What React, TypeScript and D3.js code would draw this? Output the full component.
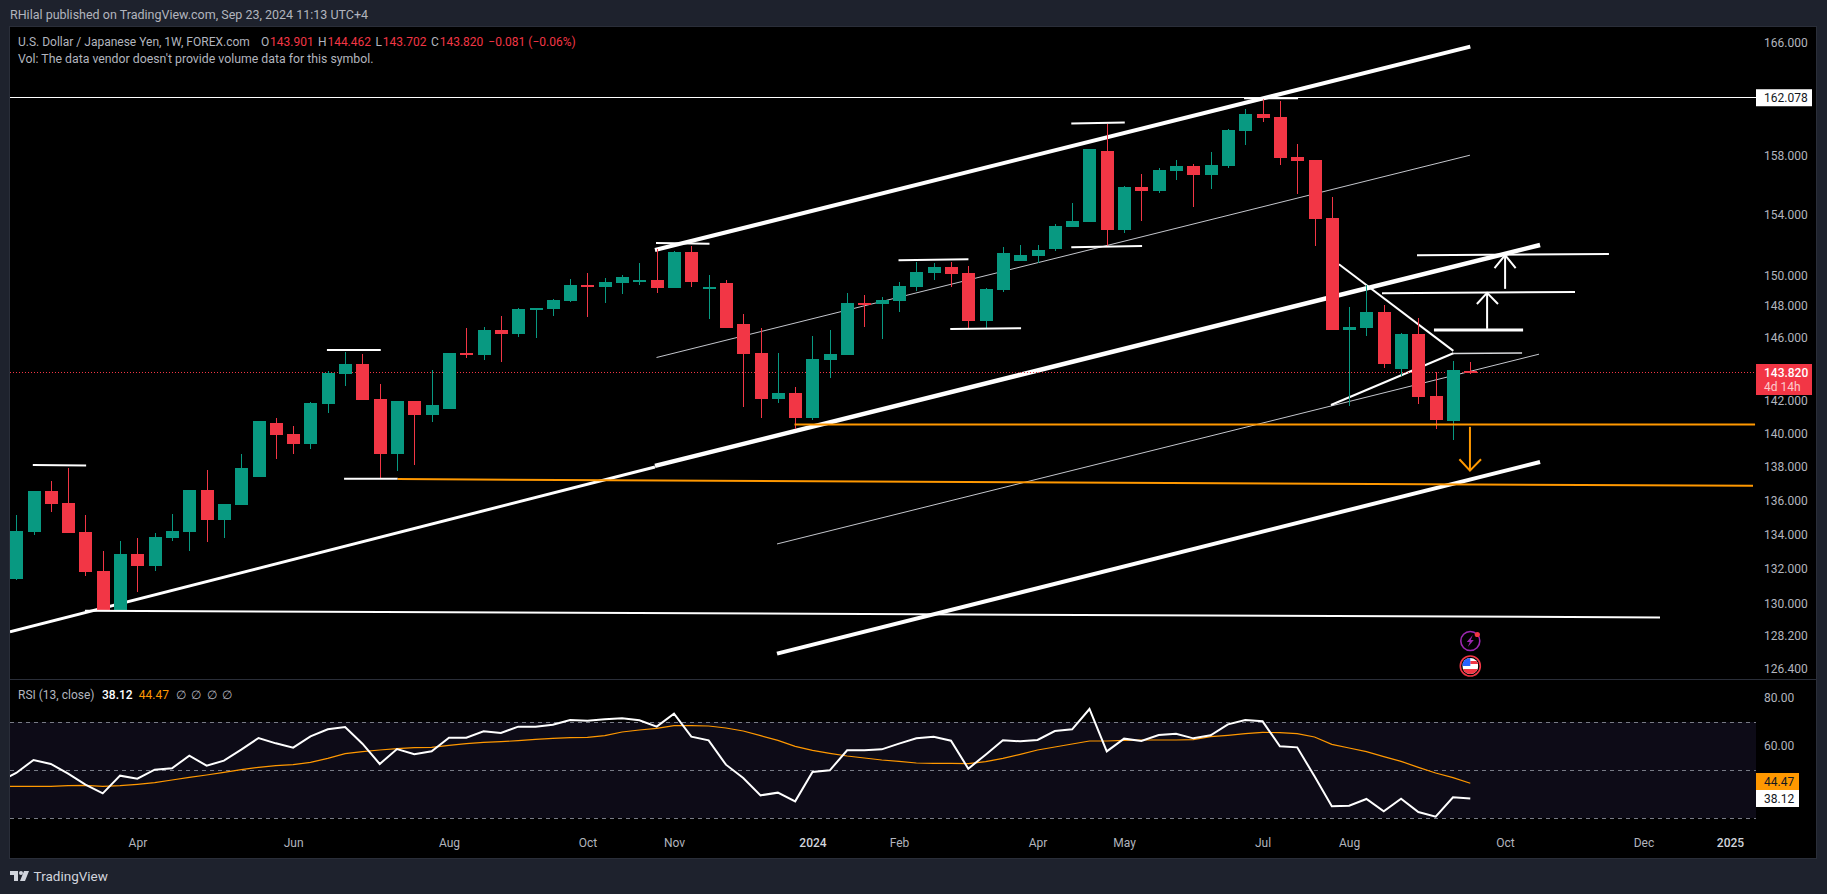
import React, { useRef, useEffect } from 'react';
import * as d3 from 'd3';

// weekly candles, oldest first (USD/JPY)
const opens = [131.44,134.14,136.56,135.84,134.14,131.88,129.66,132.86,132.17,133.79,134.14,136.62,134.85,135.73,137.40,140.66,139.99,139.38,141.83,143.70,144.32,142.13,138.77,142.01,141.15,141.52,145.01,144.89,146.46,146.21,147.82,147.82,148.33,149.37,149.24,149.50,149.63,149.69,149.17,151.52,149.17,149.50,146.86,145.01,142.13,142.51,140.97,144.57,144.89,148.20,148.13,148.33,149.24,150.15,150.54,150.15,147.05,149.04,150.93,151.26,151.72,153.19,153.52,158.33,152.99,155.88,155.60,156.97,157.31,156.69,157.31,159.72,160.91,160.70,157.92,157.72,153.79,146.46,146.60,147.62,144.01,146.21,142.32,140.78,143.901];
const highs = [135.14,136.56,137.16,137.93,135.14,133.03,133.62,133.79,134.09,135.20,136.62,137.81,135.79,138.77,140.78,140.97,140.48,141.95,143.89,145.07,144.95,143.07,142.01,142.01,143.95,145.01,146.57,146.65,147.36,147.88,147.88,148.45,149.76,150.15,149.82,150.02,150.80,151.72,151.58,151.92,150.02,149.69,147.50,146.60,145.01,142.89,146.09,146.46,148.85,148.72,148.59,149.56,150.87,150.80,150.87,150.61,149.17,151.85,151.98,151.98,153.39,154.79,158.47,160.21,155.95,156.76,157.17,157.72,157.45,158.26,159.86,161.25,161.95,161.81,158.82,157.72,155.19,147.94,149.37,148.07,146.27,147.24,143.82,144.51,144.462];
const lows = [131.37,133.97,135.32,134.09,131.60,129.66,129.66,130.68,131.88,133.62,133.03,133.56,133.79,135.73,137.40,138.47,138.77,139.07,141.27,142.95,142.07,137.28,137.75,138.11,140.72,141.52,144.70,144.57,144.45,146.02,145.96,147.36,148.26,147.30,148.20,148.78,149.37,148.85,149.17,149.24,147.18,146.60,141.64,140.97,141.89,140.30,140.85,143.45,144.89,146.67,145.90,147.62,148.98,149.69,149.24,146.60,146.54,148.91,150.93,150.80,151.58,153.19,153.52,151.85,152.79,153.59,155.47,156.35,154.52,155.74,157.17,158.75,160.35,157.38,155.40,151.92,146.46,141.70,146.09,144.07,143.57,141.83,140.30,139.62,143.702];
const closes = [134.20,136.56,135.79,134.09,131.83,129.66,132.86,132.17,133.85,134.20,136.62,134.85,135.79,137.93,140.78,139.93,139.38,141.89,143.76,144.32,142.07,138.77,142.01,141.15,141.76,145.01,144.95,146.46,146.21,147.82,147.88,148.39,149.37,149.30,149.56,149.89,149.69,149.17,151.52,149.56,149.24,146.60,144.95,142.13,142.51,140.97,144.64,144.95,148.20,148.13,148.39,149.30,150.22,150.54,150.09,147.05,149.11,151.45,151.32,151.65,153.25,153.59,158.47,152.99,155.88,155.60,157.04,157.31,156.69,157.38,159.79,160.91,160.63,157.85,157.65,153.72,146.46,146.67,147.62,144.32,146.21,142.26,140.85,143.95,143.820];

// RSI values start one week before the first visible candle
const rsiValues = [45.0,48.75,54.17,52.5,48.47,43.89,40.28,47.64,46.39,50.14,50.69,55.97,51.81,53.89,58.47,63.33,61.11,59.31,64.03,66.94,67.92,60.97,52.5,58.75,56.53,57.78,63.47,63.47,66.11,65.42,68.06,68.06,68.89,70.83,70.56,71.11,71.53,70.69,68.06,73.47,63.89,62.36,52.22,46.67,39.44,40.56,36.94,49.17,49.86,58.19,58.19,58.61,60.97,63.19,63.89,62.22,50.56,56.39,62.36,61.94,62.5,66.25,66.94,75.42,57.78,63.06,62.08,64.58,65.14,63.19,64.44,69.03,70.83,70.28,59.86,59.44,47.36,34.86,35.14,37.92,32.78,38.06,32.5,30.56,38.61,38.12];
const rsiAverage = [43.19,43.19,43.19,43.19,43.47,43.61,43.19,43.47,44.03,44.72,45.83,46.94,47.92,49.03,50.14,51.11,51.81,52.22,53.19,54.86,56.81,57.64,58.33,58.89,59.31,59.44,60.28,60.97,61.53,61.81,62.22,62.78,63.19,63.47,63.61,64.31,65.83,66.67,67.36,68.47,68.47,68.33,67.5,66.25,64.31,62.36,59.86,58.19,56.94,55.83,55,54.17,53.61,52.92,52.78,52.78,52.64,53.47,54.86,56.53,58.33,59.58,60.83,62.08,62.08,62.36,62.5,62.5,62.5,62.64,63.89,64.44,65.14,65.69,65.56,65.14,63.75,60.69,59.17,57.64,55.56,53.61,51.11,48.75,46.81,44.47];

const priceTicks = [166,158,154,150,148,146,142,140,138,136,134,132,130,128.2,126.4];
const rsiTicks = [80,60];
const timeTicks: [number, string][] = [[7,'Apr'],[16,'Jun'],[25,'Aug'],[33,'Oct'],[38,'Nov'],[46,'2024'],[51,'Feb'],[59,'Apr'],[64,'May'],[72,'Jul'],[77,'Aug'],[86,'Oct'],[94,'Dec'],[99,'2025']];
const rsiLevels = [70,50,30];

// drawings as [week index, price, week index, price]
const upperChannel = [[36.90,151.65,84.0,165.69]];
const middleChannelEarly = [[-0.36,128.43,36.90,137.99]];
const middleChannelLate = [[36.90,138.05,88.03,151.98]];
const lowerChannel = [[43.95,127.22,88.03,138.29]];
const medianLines = [
  [36.99,144.72,83.98,158.04],
  [43.95,133.44,87.97,144.93],
];
const triangleLines = [
  [76.41,150.72,83.02,145.14],
  [83.02,144.99,75.95,141.76],
];
const levelLines = [
  [0.96,138.10,4.04,138.07],
  [17.95,145.20,21.06,145.20],
  [18.94,137.28,22.04,137.28],
  [3.97,129.62,94.96,129.24],
  [36.96,152.12,40.05,152.07],
  [50.97,150.98,55.01,151.04],
  [53.96,146.52,58.05,146.58],
  [60.95,160.23,64.04,160.30],
  [60.95,151.83,65.04,151.92],
  [70.93,162.0,74.05,162.0],
  [80.92,151.30,92.01,151.39],
  [78.90,148.83,90.05,148.91],
];
const thinLevelLines = [[82.99,144.97,86.99,145.01]];
const heavyLevelLines = [[81.90,146.46,87.05,146.46]];
const orangeLines = [
  [22.04,137.26,100.33,136.86],
  [44.96,140.56,100.45,140.56],
];
// arrows: [week, tail price, tip price, head left week, head right week, head price]
const whiteArrows = [
  [84.97,146.54,148.85,84.38,85.60,148.13],
  [86.01,149.11,151.32,85.40,86.62,150.46],
];
const orangeArrows = [[83.98,140.42,137.77,83.37,84.62,138.45]];

const lastPrice = 143.82;
const highLine = 162.078;
const rsiNow = 38.12;
const rsiAvgNow = 44.47;

const up = '#089981';
const down = '#f23645';
const orange = '#ff9800';
const gray = '#b2b5be';
const font = 'Roboto, sans-serif';

const UsdJpyChart = ({ width, height }: { width: number; height: number }) => {
  const svgRef = useRef<SVGSVGElement | null>(null);

  useEffect(() => {
    const svg = d3.select(svgRef.current);
    svg.selectAll('*').remove();

    const paneRight = 1756;
    const x = d3.scaleLinear().domain([0, 84]).range([16.2, 1470.3]);
    const y = d3.scaleLog().domain([166, 126.4]).range([42.3, 668.5]);
    const rsiY = d3.scaleLinear().domain([70, 30]).range([722, 818]);

    svg.append('rect').attr('width', width).attr('height', height).attr('fill', '#1e222d');
    svg.append('rect').attr('x', 9.5).attr('y', 26.5).attr('width', 1807).attr('height', 832)
      .attr('fill', '#000').attr('stroke', '#2a2e39');
    svg.append('line').attr('x1', 10).attr('x2', 1817).attr('y1', 679.5).attr('y2', 679.5).attr('stroke', '#2a2e39');

    const defs = svg.append('defs');
    defs.append('clipPath').attr('id', 'price-clip').append('rect')
      .attr('x', 10).attr('y', 27).attr('width', paneRight - 10).attr('height', 652);
    defs.append('clipPath').attr('id', 'rsi-clip').append('rect')
      .attr('x', 10).attr('y', 680).attr('width', paneRight - 10).attr('height', 178);
    defs.append('clipPath').attr('id', 'flag-clip').append('circle').attr('cx', 0).attr('cy', 0).attr('r', 8);

    const price = svg.append('g').attr('clip-path', 'url(#price-clip)');

    const drawLines = (rows: number[][], color: string, w: number, g = price) => {
      g.append('g').selectAll('line').data(rows).join('line')
        .attr('x1', d => x(d[0])).attr('y1', d => y(d[1]))
        .attr('x2', d => x(d[2])).attr('y2', d => y(d[3]))
        .attr('stroke', color).attr('stroke-width', w);
    };

    // drawings behind the candles
    drawLines(medianLines, '#c4c6cc', 1);
    drawLines(upperChannel, '#fff', 4);
    drawLines(middleChannelEarly, '#fff', 3);
    drawLines(middleChannelLate, '#fff', 4.5);
    drawLines(lowerChannel, '#fff', 4);
    drawLines(triangleLines, '#fff', 2);

    // last price line
    price.append('line').attr('x1', 10).attr('x2', paneRight)
      .attr('y1', Math.round(y(lastPrice)) + 0.5).attr('y2', Math.round(y(lastPrice)) + 0.5)
      .attr('stroke', down).attr('stroke-dasharray', '1 2');

    // candles
    const candles = d3.range(opens.length);
    const candleG = price.append('g').attr('shape-rendering', 'crispEdges');
    candleG.selectAll('line').data(candles).join('line')
      .attr('x1', i => Math.round(x(i)) + 0.5).attr('x2', i => Math.round(x(i)) + 0.5)
      .attr('y1', i => y(highs[i])).attr('y2', i => y(lows[i]))
      .attr('stroke', i => (closes[i] >= opens[i] ? up : down));
    candleG.selectAll('rect').data(candles).join('rect')
      .attr('x', i => Math.round(x(i)) - 6)
      .attr('width', 13)
      .attr('y', i => Math.round(y(Math.max(opens[i], closes[i]))))
      .attr('height', i => Math.max(2, Math.round(Math.abs(y(opens[i]) - y(closes[i])))))
      .attr('fill', i => (closes[i] >= opens[i] ? up : down));

    // drawings above the candles
    drawLines(levelLines, '#fff', 2);
    drawLines(thinLevelLines, '#d8d9dc', 1.5);
    drawLines(heavyLevelLines, '#fff', 3);
    drawLines(orangeLines, orange, 2);
    price.append('line').attr('x1', 10).attr('x2', paneRight)
      .attr('y1', Math.round(y(highLine)) + 0.5).attr('y2', Math.round(y(highLine)) + 0.5)
      .attr('stroke', '#fff').attr('stroke-width', 1);

    const drawArrows = (rows: number[][], color: string) => {
      const g = price.append('g').attr('fill', 'none').attr('stroke', color).attr('stroke-width', 2);
      g.selectAll('.shaft').data(rows).join('line').attr('class', 'shaft')
        .attr('x1', d => x(d[0])).attr('x2', d => x(d[0]))
        .attr('y1', d => y(d[1])).attr('y2', d => y(d[2]));
      g.selectAll('.head').data(rows).join('path').attr('class', 'head')
        .attr('d', d => d3.line()([[x(d[3]), y(d[5])], [x(d[0]), y(d[2])], [x(d[4]), y(d[5])]]));
    };
    drawArrows(whiteArrows, '#fff');
    drawArrows(orangeArrows, orange);

    // event icons
    const iconX = x(84);
    const bolt = svg.append('g').attr('transform', `translate(${iconX},641)`);
    bolt.append('circle').attr('r', 9.5).attr('fill', '#000').attr('stroke', '#9c27b0').attr('stroke-width', 1.6);
    bolt.append('path').attr('d', 'M2.5,-6 L-3.5,1 L-0.5,1 L-2.5,6 L3.5,-1 L0.5,-1 Z').attr('fill', '#9c27b0');
    bolt.append('circle').attr('cx', 7).attr('cy', -6.5).attr('r', 2.6).attr('fill', down);
    const flag = svg.append('g').attr('transform', `translate(${iconX},666)`);
    flag.append('circle').attr('r', 10).attr('fill', '#000').attr('stroke', down).attr('stroke-width', 1.6);
    const flagBody = flag.append('g').attr('clip-path', 'url(#flag-clip)');
    flagBody.append('rect').attr('x', -8).attr('y', -8).attr('width', 16).attr('height', 16).attr('fill', '#fff');
    flagBody.append('rect').attr('x', 0).attr('y', -5).attr('width', 8).attr('height', 3).attr('fill', down);
    flagBody.append('rect').attr('x', -8).attr('y', 3).attr('width', 16).attr('height', 5).attr('fill', down);
    flagBody.append('rect').attr('x', -8).attr('y', -8).attr('width', 8).attr('height', 8).attr('fill', '#2962ff');

    // RSI pane
    svg.append('rect').attr('x', 10).attr('width', paneRight - 10)
      .attr('y', rsiY(70)).attr('height', rsiY(30) - rsiY(70)).attr('fill', '#0d0b17');
    svg.append('g').selectAll('line').data(rsiLevels).join('line')
      .attr('x1', 10).attr('x2', paneRight)
      .attr('y1', d => rsiY(d) + 0.5).attr('y2', d => rsiY(d) + 0.5)
      .attr('stroke', '#787b86').attr('stroke-dasharray', '4 4');
    const rsiLine = d3.line<number>().x((_, i) => x(i - 1)).y(d => rsiY(d));
    const rsi = svg.append('g').attr('clip-path', 'url(#rsi-clip)').attr('fill', 'none');
    rsi.append('path').attr('d', rsiLine(rsiAverage)).attr('stroke', orange).attr('stroke-width', 1.2);
    rsi.append('path').attr('d', rsiLine(rsiValues)).attr('stroke', '#fff').attr('stroke-width', 2);

    // axes
    const styleAxis = (g: any) => {
      g.select('.domain').remove();
      g.selectAll('.tick line').remove();
      g.selectAll('text').attr('font-family', font).attr('font-size', 12).attr('fill', gray);
    };
    svg.append('g').attr('transform', 'translate(1764,0)')
      .call(d3.axisRight(y).tickValues(priceTicks).tickFormat(d => d3.format('.3f')(+d)).tickSize(0).tickPadding(0))
      .call(styleAxis);
    svg.append('g').attr('transform', 'translate(1764,0)')
      .call(d3.axisRight(rsiY).tickValues(rsiTicks).tickFormat(d => d3.format('.2f')(+d)).tickSize(0).tickPadding(0))
      .call(styleAxis);
    const timeAxis = svg.append('g').attr('transform', 'translate(0,838)')
      .call(d3.axisBottom(x).tickValues(timeTicks.map(d => d[0])).tickFormat((_, i) => timeTicks[i][1]).tickSize(0).tickPadding(0))
      .call(styleAxis);
    timeAxis.selectAll('text').filter(function () { return /^20/.test(d3.select(this).text()); })
      .attr('font-weight', 500).attr('fill', '#d1d4dc');

    // text helpers
    const label = (tx: number, ty: number, s: string, fill = gray, size = 12, weight = 400) =>
      svg.append('text').attr('x', tx).attr('y', ty).text(s)
        .attr('font-family', font).attr('font-size', size).attr('font-weight', weight).attr('fill', fill);

    label(10, 19, 'RHilal published on TradingView.com, Sep 23, 2024 11:13 UTC+4', gray, 12.5);
    label(18, 46, 'U.S. Dollar / Japanese Yen, 1W, FOREX.com');
    label(261, 46, 'O');
    label(270, 46, '143.901', down);
    label(318, 46, 'H');
    label(327.4, 46, '144.462', down);
    label(375.6, 46, 'L');
    label(382.8, 46, '143.702', down);
    label(431, 46, 'C');
    label(439.7, 46, '143.820', down);
    label(488.3, 46, '−0.081 (−0.06%)', down);
    label(18, 63, "Vol: The data vendor doesn't provide volume data for this symbol.", gray, 12.3);

    label(18, 699, 'RSI (13, close)');
    label(102, 699, '38.12', '#fff', 12, 500);
    label(138.8, 699, '44.47', orange);
    [175.5, 191.3, 207.2, 222].forEach(t => label(t, 699, '∅'));

    // price labels
    const priceBox = (top: number, h: number, w: number, fill: string) =>
      svg.append('rect').attr('x', 1756).attr('y', top).attr('width', w).attr('height', h).attr('fill', fill);
    priceBox(y(highLine) - 8, 17, 56, '#fff');
    label(1764, y(highLine) + 4.5, d3.format('.3f')(highLine), '#131722');
    priceBox(364, 31, 56, down);
    label(1764, 376.5, d3.format('.3f')(lastPrice), '#fff', 12, 500);
    label(1764, 391, '4d 14h', '#fccbcd');
    priceBox(773, 17, 43, orange);
    label(1764, 786, d3.format('.2f')(rsiAvgNow), '#131722');
    priceBox(790, 17, 43, '#fff');
    label(1764, 803, d3.format('.2f')(rsiNow), '#131722');

    // footer logo
    const logo = svg.append('g').attr('transform', 'translate(10,871)').attr('fill', '#d1d4dc');
    logo.append('path').attr('d', 'M0,0 H8 V10 H4 V4 H0 Z');
    logo.append('circle').attr('cx', 11).attr('cy', 2).attr('r', 2);
    logo.append('path').attr('d', 'M14,0 H19 L15,10 H10 Z');
    label(33.6, 881, 'TradingView', '#d1d4dc', 13.5);
  }, [width, height]);

  return <svg ref={svgRef} width={width} height={height} style={{ position: 'absolute', left: 0, top: 0 }} />;
};

export default function App() {
  return <UsdJpyChart width={1827} height={894} />;
}
